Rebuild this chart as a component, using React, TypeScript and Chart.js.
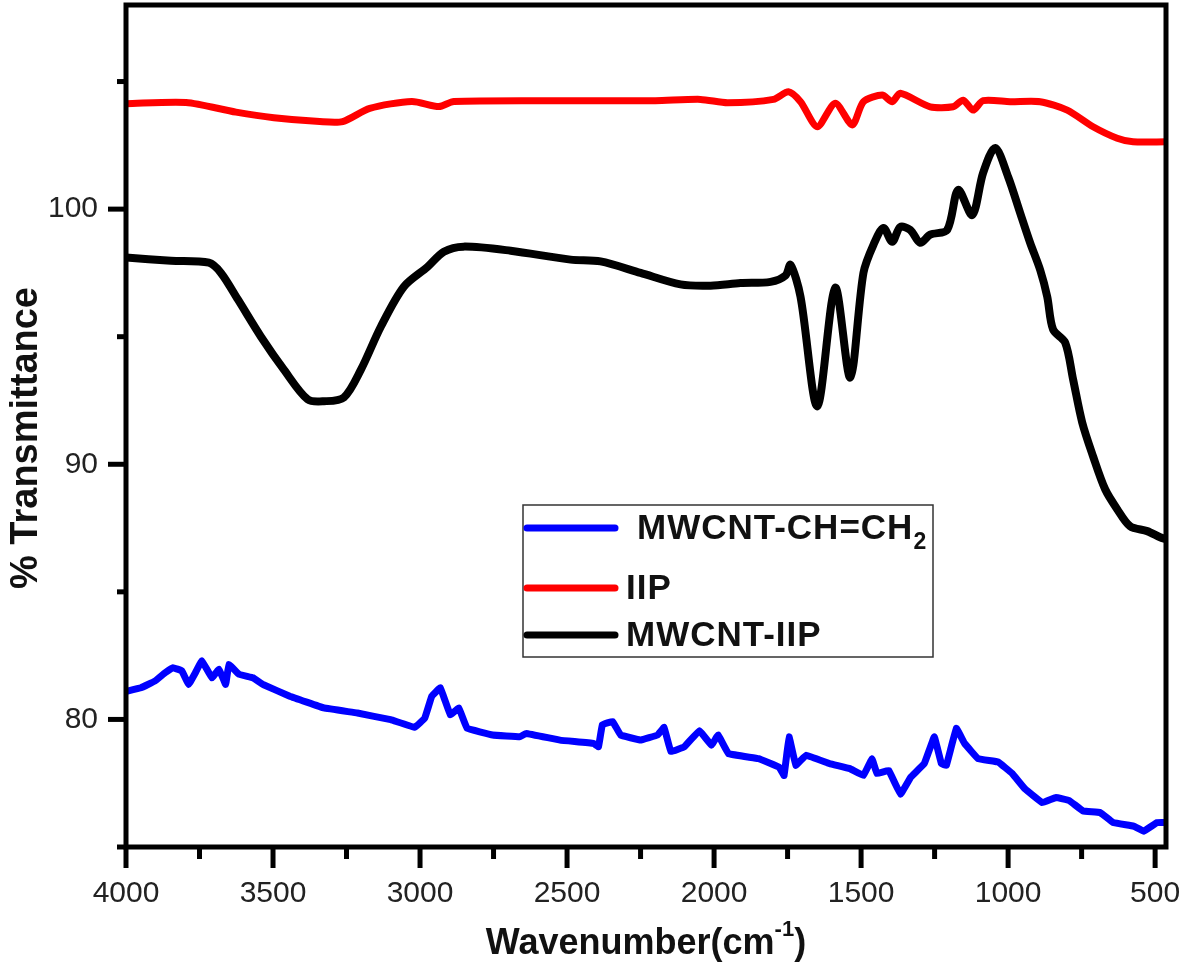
import React, { useEffect, useRef } from "react";
import { Chart, registerables } from "chart.js";

Chart.register(...registerables);

// ---- tick values ----
const xMajorTicks = [4000, 3500, 3000, 2500, 2000, 1500, 1000, 500];
const xMinorTicks = [3750, 3250, 2750, 2250, 1750, 1250, 750];
const yMajorTicks = [80, 90, 100];
const yMinorTicks = [75, 85, 95, 105];

// ---- MWCNT-CH=CH2 (blue) ----
const blueW = [4000, 3949, 3902, 3867, 3840, 3810, 3787, 3764, 3742, 3708, 3684, 3661, 3650, 3616, 3568, 3534, 3443, 3327, 3213, 3100, 3018, 2984, 2960, 2931, 2897, 2868, 2840, 2753, 2661, 2639, 2524, 2410, 2393, 2380, 2345, 2318, 2250, 2192, 2170, 2147, 2101, 2050, 2009, 1986, 1951, 1849, 1779, 1762, 1745, 1722, 1687, 1607, 1538, 1492, 1463, 1446, 1406, 1366, 1331, 1285, 1251, 1227, 1210, 1176, 1148, 1102, 1034, 986, 942, 884, 837, 792, 745, 687, 643, 573, 539, 493, 463];
const blueV = [81.1, 81.24, 81.5, 81.83, 82.03, 81.9, 81.37, 81.83, 82.3, 81.63, 81.97, 81.37, 82.16, 81.77, 81.63, 81.37, 80.91, 80.45, 80.25, 79.99, 79.69, 80.05, 80.91, 81.24, 80.18, 80.45, 79.65, 79.39, 79.32, 79.45, 79.19, 79.06, 78.93, 79.79, 79.92, 79.39, 79.19, 79.39, 79.69, 78.74, 78.93, 79.56, 78.99, 79.39, 78.66, 78.46, 78.13, 77.8, 79.32, 78.2, 78.6, 78.27, 78.07, 77.8, 78.46, 77.88, 78.0, 77.07, 77.74, 78.27, 79.32, 78.27, 78.2, 79.65, 79.06, 78.46, 78.33, 77.88, 77.27, 76.74, 76.94, 76.82, 76.41, 76.35, 75.96, 75.82, 75.62, 75.96, 75.96];

// ---- IIP (red) ----
const redW = [4000, 3796, 3626, 3497, 3341, 3263, 3171, 3028, 2936, 2885, 2500, 2200, 2046, 1954, 1798, 1747, 1706, 1649, 1588, 1530, 1492, 1428, 1394, 1367, 1265, 1187, 1153, 1119, 1085, 993, 891, 799, 711, 629, 575, 463];
const redV = [104.13, 104.18, 103.8, 103.58, 103.43, 103.43, 103.95, 104.22, 104.02, 104.22, 104.25, 104.25, 104.3, 104.17, 104.3, 104.6, 104.21, 103.23, 104.15, 103.3, 104.21, 104.47, 104.21, 104.54, 104.01, 104.01, 104.27, 103.88, 104.25, 104.21, 104.21, 103.88, 103.23, 102.78, 102.64, 102.64];

// ---- MWCNT-IIP (black) ----
const blackW = [4000, 3847, 3718, 3677, 3619, 3541, 3463, 3382, 3327, 3259, 3201, 3133, 3055, 2974, 2919, 2852, 2692, 2488, 2386, 2250, 2114, 2012, 1910, 1808, 1757, 1740, 1706, 1649, 1588, 1537, 1492, 1458, 1424, 1394, 1367, 1333, 1299, 1265, 1207, 1170, 1122, 1085, 1044, 1000, 959, 925, 891, 867, 847, 806, 779, 748, 711, 670, 629, 585, 527, 483, 463];
const blackV = [98.1, 97.98, 97.9, 97.5, 96.45, 95.0, 93.71, 92.54, 92.47, 92.62, 93.71, 95.4, 96.96, 97.74, 98.33, 98.53, 98.37, 98.02, 97.95, 97.5, 97.05, 97.0, 97.1, 97.15, 97.4, 97.82, 96.57, 92.27, 96.92, 93.4, 97.5, 98.6, 99.26, 98.72, 99.3, 99.19, 98.68, 99.0, 99.19, 100.75, 99.77, 101.42, 102.4, 101.27, 99.85, 98.68, 97.62, 96.57, 95.28, 94.77, 93.33, 91.64, 90.31, 89.02, 88.24, 87.57, 87.38, 87.14, 87.06];

const FONT = "'Liberation Sans', Arial, sans-serif";

const toPoints = (w: number[], v: number[]) => w.map((x, i) => ({ x, y: v[i] }));

const decorPlugin = {
  id: "decor",
  afterDraw(chart: any) {
    const { ctx, chartArea: a, scales } = chart;
    const xs = scales.x;
    const ys = scales.y;
    ctx.save();
    // frame
    ctx.strokeStyle = "#000";
    ctx.lineWidth = 5;
    ctx.strokeRect(a.left, a.top, a.right - a.left, a.bottom - a.top);
    // ticks
    const seg = (x1: number, y1: number, x2: number, y2: number) => {
      ctx.beginPath();
      ctx.moveTo(x1, y1);
      ctx.lineTo(x2, y2);
      ctx.stroke();
    };
    ctx.lineWidth = 5;
    xMajorTicks.forEach((v) => {
      const p = xs.getPixelForValue(v);
      seg(p, a.bottom, p, a.bottom + 21);
    });
    xMinorTicks.forEach((v) => {
      const p = xs.getPixelForValue(v);
      seg(p, a.bottom, p, a.bottom + 12);
    });
    yMajorTicks.forEach((v) => {
      const p = ys.getPixelForValue(v);
      seg(a.left, p, a.left - 18, p);
    });
    yMinorTicks.forEach((v) => {
      const p = ys.getPixelForValue(v);
      seg(a.left, p, a.left - 9, p);
    });

    // axis titles
    ctx.fillStyle = "#111";
    ctx.textBaseline = "middle";
    // x title with superscript
    const cx = (a.left + a.right) / 2;
    const ty = 944;
    ctx.font = `bold 36px ${FONT}`;
    const t1 = "Wavenumber(cm";
    const t3 = ")";
    const w1 = ctx.measureText(t1).width;
    const w3 = ctx.measureText(t3).width;
    ctx.font = `bold 22px ${FONT}`;
    const t2 = "-1";
    const w2 = ctx.measureText(t2).width;
    const total = w1 + w2 + w3;
    let sx = cx - total / 2;
    ctx.textAlign = "left";
    ctx.font = `bold 36px ${FONT}`;
    ctx.fillText(t1, sx, ty);
    sx += w1;
    ctx.font = `bold 22px ${FONT}`;
    ctx.fillText(t2, sx, ty - 14);
    sx += w2;
    ctx.font = `bold 36px ${FONT}`;
    ctx.fillText(t3, sx, ty);

    // y title
    ctx.save();
    ctx.translate(27, 438);
    ctx.rotate(-Math.PI / 2);
    ctx.textAlign = "center";
    ctx.font = `bold 38px ${FONT}`;
    ctx.fillText("% Transmittance", 0, 0);
    ctx.restore();

    // legend box
    ctx.fillStyle = "#fff";
    ctx.fillRect(523, 505, 410, 152);
    ctx.strokeStyle = "#333";
    ctx.lineWidth = 1.5;
    ctx.strokeRect(523, 505, 410, 152);
    const items = [
      { color: "#0000ff", y: 528, x: 637, label: "MWCNT-CH=CH", sub: "2" },
      { color: "#ff0000", y: 588, x: 626, label: "IIP", sub: "" },
      { color: "#000000", y: 635, x: 626, label: "MWCNT-IIP", sub: "" },
    ];
    items.forEach((it) => {
      ctx.strokeStyle = it.color;
      ctx.lineWidth = 7;
      ctx.lineCap = "round";
      seg(527, it.y, 615, it.y);
      ctx.fillStyle = "#111";
      ctx.textAlign = "left";
      ctx.font = `bold 35px ${FONT}`;
      (ctx as any).letterSpacing = "1px";
      ctx.fillText(it.label, it.x, it.y + 1);
      if (it.sub) {
        const w = ctx.measureText(it.label).width;
        ctx.font = `bold 23px ${FONT}`;
        ctx.fillText(it.sub, it.x + w, it.y + 15);
      }
      (ctx as any).letterSpacing = "0px";
    });
    ctx.restore();
  },
};

const zeroPad = (s: any) => {
  s.paddingLeft = 0;
  s.paddingRight = 0;
  s.paddingTop = 0;
  s.paddingBottom = 0;
};

export default function App() {
  const ref = useRef<HTMLCanvasElement | null>(null);
  useEffect(() => {
    if (!ref.current) return;
    const chart = new Chart(ref.current, {
      type: "line",
      data: {
        datasets: [
          {
            label: "MWCNT-CH=CH2",
            data: toPoints(blueW, blueV),
            borderColor: "#0000ff",
            borderWidth: 7,
            tension: 0.05,
            borderJoinStyle: "round",
            pointRadius: 0,
          },
          {
            label: "IIP",
            data: toPoints(redW, redV),
            borderColor: "#ff0000",
            borderWidth: 7,
            tension: 0.25,
            pointRadius: 0,
          },
          {
            label: "MWCNT-IIP",
            data: toPoints(blackW, blackV),
            borderColor: "#000000",
            borderWidth: 8,
            tension: 0.3,
            pointRadius: 0,
          },
        ],
      },
      options: {
        responsive: false,
        animation: false,
        devicePixelRatio: 1,
        layout: { padding: { left: 0, right: 15, top: 5, bottom: 0 }, autoPadding: false },
        plugins: { legend: { display: false }, tooltip: { enabled: false } },
        scales: {
          x: {
            type: "linear",
            reverse: true,
            min: 463,
            max: 4000,
            afterBuildTicks: (s: any) => {
              s.ticks = xMajorTicks.map((v) => ({ value: v }));
            },
            afterFit: (s: any) => {
              s.height = 122;
              zeroPad(s);
            },
            grid: { display: false, drawTicks: false },
            border: { display: false },
            ticks: {
              font: { family: FONT, size: 30 },
              color: "#222",
              padding: 29,
              maxRotation: 0,
              autoSkip: false,
              callback: (v: any) => String(v),
            },
          },
          y: {
            type: "linear",
            min: 75,
            max: 108,
            afterBuildTicks: (s: any) => {
              s.ticks = yMajorTicks.map((v) => ({ value: v }));
            },
            afterFit: (s: any) => {
              s.width = 126;
              zeroPad(s);
            },
            grid: { display: false, drawTicks: false },
            border: { display: false },
            ticks: {
              font: { family: FONT, size: 30 },
              color: "#222",
              padding: 28,
              autoSkip: false,
              callback: (v: any) => String(v),
            },
          },
        },
      },
      plugins: [decorPlugin],
    });
    return () => chart.destroy();
  }, []);
  return (
    <div style={{ position: "absolute", left: 0, top: 0, width: 1181, height: 969, background: "#fff" }}>
      <canvas ref={ref} width={1181} height={969} />
    </div>
  );
}
